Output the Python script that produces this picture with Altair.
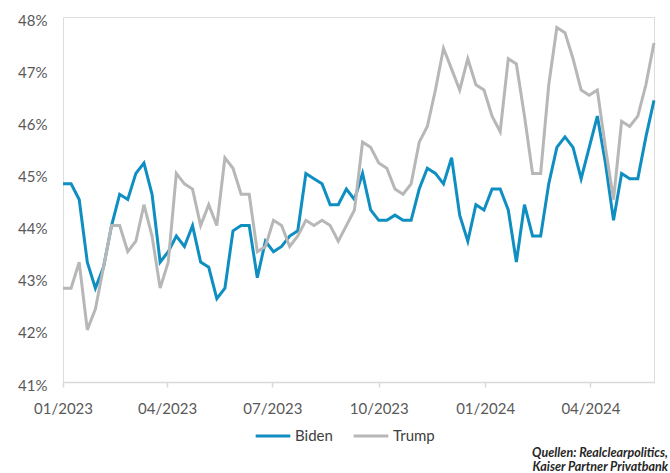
import altair as alt
import pandas as pd

biden = [44.8, 44.8, 44.5, 43.3, 42.8, 43.2, 44.0, 44.6, 44.5, 45.0,
         45.2, 44.6, 43.3, 43.5, 43.8, 43.6, 44.0, 43.3, 43.2, 42.6,
         42.8, 43.9, 44.0, 44.0, 43.0, 43.7, 43.5, 43.6, 43.8, 43.9,
         45.0, 44.9, 44.8, 44.4, 44.4, 44.7, 44.5, 45.0, 44.3, 44.1,
         44.1, 44.2, 44.1, 44.1, 44.7, 45.1, 45.0, 44.8, 45.3, 44.2,
         43.7, 44.4, 44.3, 44.7, 44.7, 44.3, 43.3, 44.4, 43.8, 43.8,
         44.8, 45.5, 45.7, 45.5, 44.9, 45.5, 46.1, 45.2, 44.1, 45.0,
         44.9, 44.9, 45.7, 46.4]
trump = [42.8, 42.8, 43.3, 42.0, 42.4, 43.2, 44.0, 44.0, 43.5, 43.7,
         44.4, 43.8, 42.8, 43.3, 45.0, 44.8, 44.7, 44.0, 44.4, 44.0,
         45.3, 45.1, 44.6, 44.6, 43.5, 43.6, 44.1, 44.0, 43.6, 43.8,
         44.1, 44.0, 44.1, 44.0, 43.7, 44.0, 44.3, 45.6, 45.5, 45.2,
         45.1, 44.7, 44.6, 44.8, 45.6, 45.9, 46.6, 47.4, 47.0, 46.6,
         47.2, 46.7, 46.6, 46.1, 45.8, 47.2, 47.1, 46.1, 45.0, 45.0,
         46.7, 47.8, 47.7, 47.2, 46.6, 46.5, 46.6, 45.5, 44.5, 46.0,
         45.9, 46.1, 46.7, 47.5]
dates = pd.date_range("2023-01-01", periods=len(biden), freq="7D").strftime("%Y-%m-%d").tolist()
tick_dates = ["2023-01-01", "2023-04-01", "2023-07-01", "2023-10-01", "2024-01-01", "2024-04-01"]
series = ["Biden", "Trump"]
colors = ["#0E8EC1", "#B7B7B7"]
source_text = "Quellen: Realclearpolitics,\nKaiser Partner Privatbank"

rows = []
for name, vals in zip(series, [biden, trump]):
    for d, v in zip(dates, vals):
        rows.append({"date": d, "value": v, "series": name, "order": series.index(name)})
df = pd.DataFrame(rows)

FONT = "Lato"

def dt(s):
    y, m, d = map(int, s.split("-"))
    return alt.DateTime(year=y, month=m, date=d, utc=True)

lines = alt.Chart(df).mark_line(strokeWidth=3).encode(
    x=alt.X("date:T",
            scale=alt.Scale(type="utc", domain=[dt(dates[0]), dt(dates[-1])]),
            axis=alt.Axis(values=[dt(s) for s in tick_dates],
                          labelExpr="utcFormat(datum.value, '%m/%Y')",
                          title=None, grid=False, domainColor="#D9D9D9", domainWidth=1.5,
                          tickColor="#D9D9D9", tickSize=5, tickWidth=1.5,
                          labelPadding=14, labelFontSize=15, labelColor="#595959",
                          labelFont=FONT, labelFlush=False)),
    y=alt.Y("value:Q",
            scale=alt.Scale(domain=[41, 48], nice=False, zero=False),
            axis=alt.Axis(values=[41, 42, 43, 44, 45, 46, 47, 48], labelExpr="datum.value + '%'",
                          title=None, grid=False, domain=False, ticks=False, tickSize=0,
                          labelPadding=16, labelFontSize=15, labelColor="#595959",
                          labelFont=FONT, labelOffset=3)),
    color=alt.Color("series:N", scale=alt.Scale(domain=series, range=colors),
                    legend=alt.Legend(title=None, orient="none", direction="horizontal",
                                      legendX=191, legendY=400, symbolType="stroke",
                                      symbolSize=1200, symbolStrokeWidth=3,
                                      labelFontSize=15, labelColor="#404040", labelFont=FONT,
                                      labelOffset=3, columnPadding=14)),
    order=alt.Order("order:Q"),
    detail="series:N",
)

src = alt.Chart(pd.DataFrame({"t": [source_text]})).mark_text(
    align="right", baseline="top", fontStyle="italic", fontWeight="bold",
    fontSize=12.5, lineHeight=14, lineBreak="\n", color="#262626", font=FONT
).encode(text="t:N", x=alt.value(605), y=alt.value(430))

chart = alt.layer(lines, src).properties(
    width=591, height=365,
    autosize=alt.AutoSizeParams(type="none"),
    padding={"left": 63, "top": 17, "right": 16, "bottom": 91},
).configure_view(stroke=None).configure(background="white")

chart.save("out.html", embed_options={"renderer": "svg", "actions": False})
